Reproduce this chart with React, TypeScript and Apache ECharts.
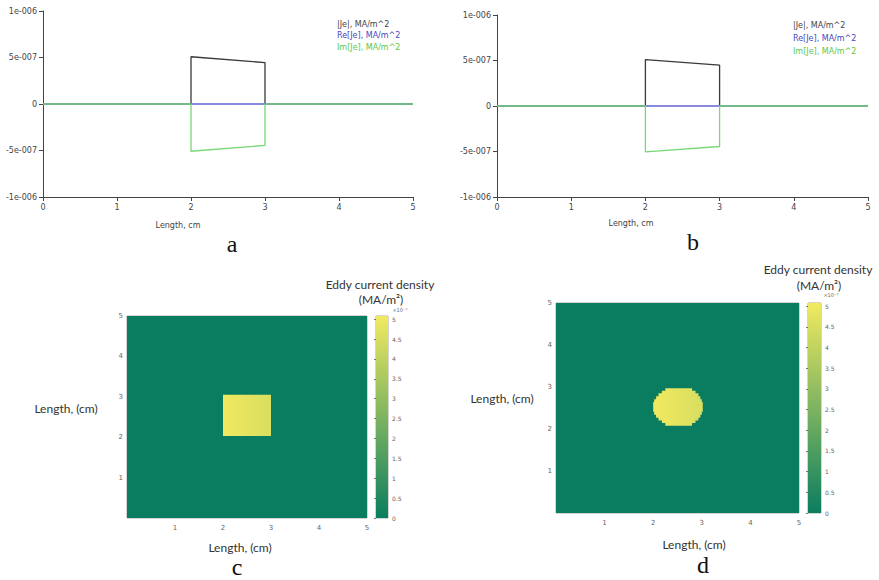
import React, { useEffect, useRef } from "react";
import * as echarts from "echarts";

// ---------- data ----------
const lengthTicks = [0, 1, 2, 3, 4, 5];
const lineYTickLabels = ["-1e-006", "-5e-007", "0", "5e-007", "1e-006"];
const legendLabels = ["|Je|, MA/m^2", "Re[Je], MA/m^2", "Im[Je], MA/m^2"];

const jeA = [[0, 0], [2, 0], [2, 5.08e-7], [3, 4.45e-7], [3, 0], [5, 0]];
const reA = [[0, 0], [5, 0]];
const imA = [[0, 0], [2, 0], [2, -5.08e-7], [3, -4.45e-7], [3, 0], [5, 0]];

const jeB = [[0, 0], [2, 0], [2, 5.1e-7], [3, 4.5e-7], [3, 0], [5, 0]];
const reB = [[0, 0], [5, 0]];
const imB = [[0, 0], [2, 0], [2, -5.05e-7], [3, -4.45e-7], [3, 0], [5, 0]];

// heatmaps (values in MA/m^2)
const mapBackground = [0, 5, 0, 5, 0]; // x0, x1, y0, y1, value
const profileX = [2, 3]; // current density profile across the conductor
const profileValues = [5.05e-7, 4.5e-7];
const cBlock = [2.0, 3.0, 2.03, 3.05]; // x0, x1, y0, y1

// rows of the stepped disc in d: [y0, y1, x0, x1]
const dRows = [
  [2.91, 2.97, 2.25, 2.8],
  [2.85, 2.91, 2.18, 2.87],
  [2.78, 2.85, 2.11, 2.93],
  [2.71, 2.78, 2.06, 2.97],
  [2.64, 2.71, 2.02, 3.0],
  [2.41, 2.64, 2.0, 3.02],
  [2.34, 2.41, 2.02, 3.0],
  [2.27, 2.34, 2.06, 2.97],
  [2.2, 2.27, 2.11, 2.93],
  [2.14, 2.2, 2.18, 2.87],
  [2.08, 2.14, 2.25, 2.8],
];

const colorbarMax = 5.08; // x 1e-7
const colorbarLabels = ["0", "0.5", "1", "1.5", "2", "2.5", "3", "3.5", "4", "4.5", "5"];

// ---------- helpers ----------
const C0 = [10, 125, 96];
const C1 = [242, 234, 96];
function mapColor(v: number) {
  let t = v / (colorbarMax * 1e-7);
  t = Math.max(0, Math.min(1, t));
  const c = C0.map((a, i) => Math.round(a + (C1[i] - a) * t));
  return `rgb(${c[0]},${c[1]},${c[2]})`;
}

const SANS = "DejaVu Sans";
const LABEL_FONT = "Lato";

function lineX(gi: number) {
  return {
    type: "value", gridIndex: gi, min: 0, max: 5, interval: 1,
    axisLine: { show: true, onZero: false, lineStyle: { color: "#444", width: 1 } },
    axisTick: { show: true, length: 4, lineStyle: { color: "#444" } },
    axisLabel: { fontSize: 8, color: "#444", fontFamily: SANS, margin: 6,
      formatter: (v: number) => String(lengthTicks[Math.round(v)]) },
    splitLine: { show: false },
  };
}
function lineY(gi: number) {
  return {
    type: "value", gridIndex: gi, min: -1e-6, max: 1e-6, interval: 5e-7,
    axisLine: { show: true, onZero: false, lineStyle: { color: "#444", width: 1 } },
    axisTick: { show: true, length: 4, lineStyle: { color: "#444" } },
    axisLabel: { fontSize: 8, color: "#444", fontFamily: SANS, margin: 6,
      formatter: (v: number) => lineYTickLabels[Math.round(v / 5e-7) + 2] },
    splitLine: { show: false },
  };
}
function mapAxis(gi: number, margin: number) {
  return {
    type: "value", gridIndex: gi, min: 0, max: 5, interval: 1,
    axisLine: { show: false }, axisTick: { show: false },
    axisLabel: { fontSize: 7, color: "#666", fontFamily: SANS, margin, showMinLabel: false },
    splitLine: { show: false },
  };
}
function cbX(gi: number) {
  return { type: "value", gridIndex: gi, min: 0, max: 1, show: false };
}
function cbY(gi: number) {
  return {
    type: "value", gridIndex: gi, position: "right", min: 0, max: colorbarMax, interval: 0.5,
    axisLine: { show: false },
    axisTick: { show: true, inside: true, length: 2, lineStyle: { color: "#777" } },
    axisLabel: { fontSize: 6, color: "#666", fontFamily: SANS, margin: 4, showMaxLabel: false,
      formatter: (v: number) => colorbarLabels[Math.round(v * 2)] ?? "" },
    splitLine: { show: false },
  };
}

function profileFill(api: any) {
  const pL = api.coord([profileX[0], 0]);
  const pR = api.coord([profileX[1], 0]);
  return new echarts.graphic.LinearGradient(pL[0], 0, pR[0], 0, [
    { offset: 0, color: mapColor(profileValues[0]) },
    { offset: 1, color: mapColor(profileValues[1]) },
  ], true);
}

const bgRender = (params: any, api: any) => {
  const p0 = api.coord([api.value(0), api.value(3)]);
  const p1 = api.coord([api.value(1), api.value(2)]);
  return {
    type: "rect",
    shape: { x: p0[0], y: p0[1], width: p1[0] - p0[0], height: p1[1] - p0[1] },
    style: { fill: mapColor(api.value(4)) },
  };
};
const blockRender = (params: any, api: any) => {
  const p0 = api.coord([api.value(0), api.value(3)]);
  const p1 = api.coord([api.value(1), api.value(2)]);
  return {
    type: "rect",
    shape: { x: p0[0], y: p0[1], width: p1[0] - p0[0], height: p1[1] - p0[1] },
    style: { fill: profileFill(api) },
  };
};
const discRender = (params: any, api: any) => {
  const pts: number[][] = [];
  for (const r of dRows) {
    pts.push(api.coord([r[3], r[1]]));
    pts.push(api.coord([r[3], r[0]]));
  }
  for (let i = dRows.length - 1; i >= 0; i--) {
    const r = dRows[i];
    pts.push(api.coord([r[2], r[0]]));
    pts.push(api.coord([r[2], r[1]]));
  }
  return { type: "polygon", shape: { points: pts }, style: { fill: profileFill(api) } };
};
const colorbarRender = (params: any, api: any) => {
  const p0 = api.coord([api.value(0), api.value(3)]);
  const p1 = api.coord([api.value(1), api.value(2)]);
  return {
    type: "rect",
    shape: { x: p0[0], y: p0[1], width: p1[0] - p0[0], height: p1[1] - p0[1] },
    style: {
      fill: new echarts.graphic.LinearGradient(0, 1, 0, 0, [
        { offset: 0, color: mapColor(0) },
        { offset: 1, color: mapColor(colorbarMax * 1e-7) },
      ]),
    },
  };
};

function txt(text: string, x: number, y: number, size: number, family: string, fill: string, align = "center") {
  return {
    type: "text", x, y, silent: true,
    style: { text, fontSize: size, fontFamily: family, fill, align, verticalAlign: "middle",
      textAlign: align, textVerticalAlign: "middle" },
  };
}

const legendColors = ["#444444", "#4848c0", "#5cc84a"];
const lineColors = ["#3a3a3a", "#6262d2", "#78d878"];

export default function App() {
  const ref = useRef<HTMLDivElement>(null);
  useEffect(() => {
    if (!ref.current) return;
    const chart = echarts.init(ref.current, undefined, { renderer: "svg" });
    const lineSeries = (gi: number, je: number[][], re: number[][], im: number[][]) =>
      [je, re, im].map((d, i) => ({
        type: "line", xAxisIndex: gi, yAxisIndex: gi, data: d, showSymbol: false, symbol: "none",
        lineStyle: { color: lineColors[i], width: 1.3 }, z: 2 + i,
      }));
    const enc = { x: [0, 1], y: [2, 3] };
    const option: any = {
      animation: false,
      backgroundColor: "#ffffff",
      grid: [
        { left: 43, top: 11, width: 370, height: 186 },
        { left: 497, top: 15, width: 371, height: 182 },
        { left: 127, top: 316, width: 240, height: 202, show: true, borderColor: "#aaa", borderWidth: 1, backgroundColor: "transparent" },
        { left: 376, top: 316, width: 12, height: 202, show: true, borderColor: "#aaa", borderWidth: 1, backgroundColor: "transparent" },
        { left: 556, top: 303, width: 243, height: 210, show: true, borderColor: "#aaa", borderWidth: 1, backgroundColor: "transparent" },
        { left: 808, top: 303, width: 13, height: 210, show: true, borderColor: "#aaa", borderWidth: 1, backgroundColor: "transparent" },
      ],
      xAxis: [lineX(0), lineX(1), mapAxis(2, 6), cbX(3), mapAxis(4, 6), cbX(5)],
      yAxis: [lineY(0), lineY(1), mapAxis(2, 4), cbY(3), mapAxis(4, 4), cbY(5)],
      series: [
        ...lineSeries(0, jeA, reA, imA),
        ...lineSeries(1, jeB, reB, imB),
        { type: "custom", xAxisIndex: 2, yAxisIndex: 2, data: [mapBackground], renderItem: bgRender, encode: enc, silent: true, z: 2 },
        { type: "custom", xAxisIndex: 2, yAxisIndex: 2, data: [cBlock], renderItem: blockRender, encode: enc, silent: true, z: 3 },
        { type: "custom", xAxisIndex: 3, yAxisIndex: 3, data: [[0, 1, 0, colorbarMax]], renderItem: colorbarRender, encode: enc, silent: true },
        { type: "custom", xAxisIndex: 4, yAxisIndex: 4, data: [mapBackground], renderItem: bgRender, encode: enc, silent: true, z: 2 },
        { type: "custom", xAxisIndex: 4, yAxisIndex: 4, data: [[2.0, 3.02, 2.08, 2.97]], renderItem: discRender, encode: enc, silent: true, z: 3 },
        { type: "custom", xAxisIndex: 5, yAxisIndex: 5, data: [[0, 1, 0, colorbarMax]], renderItem: colorbarRender, encode: enc, silent: true },
      ],
      graphic: [
        // legends
        ...legendLabels.map((t, i) => txt(t, 337, [24, 35.5, 47][i], 8, SANS, legendColors[i], "left")),
        ...legendLabels.map((t, i) => txt(t, 793, [25, 38, 51][i], 8, SANS, legendColors[i], "left")),
        txt("Length, cm", 178, 225, 8, SANS, "#444"),
        txt("Length, cm", 631, 223, 8, SANS, "#444"),
        // panel letters
        txt("a", 232, 244, 24, "Liberation Serif", "#111"),
        txt("b", 693, 242, 24, "Liberation Serif", "#111"),
        txt("c", 237, 567, 24, "Liberation Serif", "#111"),
        txt("d", 703, 565, 24, "Liberation Serif", "#111"),
        // heatmap c texts
        txt("Eddy current density", 380, 284, 12, LABEL_FONT, "#333"),
        txt("(MA/m²)", 381, 299, 12, LABEL_FONT, "#333"),
        txt("×10⁻⁷", 400, 310, 5, SANS, "#666"),
        txt("Length, (cm)", 66, 408, 12, LABEL_FONT, "#333"),
        txt("Length, (cm)", 240, 547, 12, LABEL_FONT, "#333"),
        // heatmap d texts
        txt("Eddy current density", 818, 269, 12, LABEL_FONT, "#333"),
        txt("(MA/m²)", 819, 285, 12, LABEL_FONT, "#333"),
        txt("×10⁻⁷", 831, 295, 5, SANS, "#666"),
        txt("Length, (cm)", 502, 398, 12, LABEL_FONT, "#333"),
        txt("Length, (cm)", 694, 544, 12, LABEL_FONT, "#333"),
      ],
    };
    chart.setOption(option);
    return () => chart.dispose();
  }, []);
  return (
    <div
      ref={ref}
      style={{ position: "fixed", left: 0, top: 0, width: 879, height: 580, background: "#fff" }}
    />
  );
}
